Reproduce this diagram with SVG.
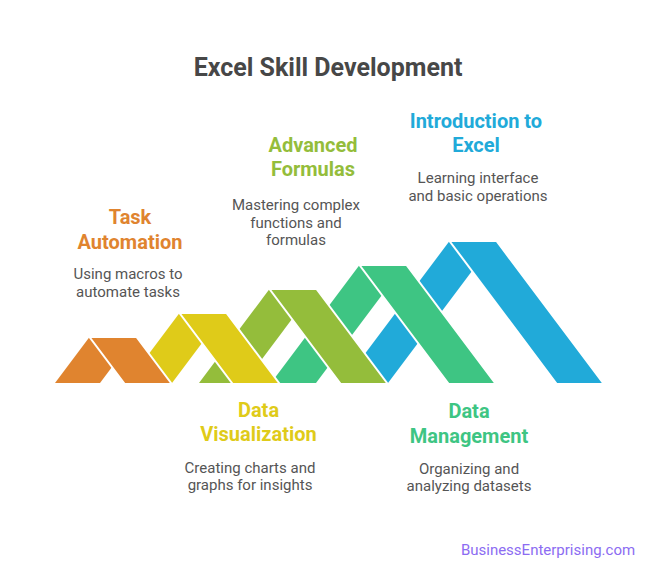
<svg xmlns="http://www.w3.org/2000/svg" width="652" height="578" viewBox="0 0 652 578">
<style>
.t{font-family:Roboto,"Liberation Sans",sans-serif;font-weight:700;font-size:20px;text-anchor:middle}
.d{font-family:Roboto,"Liberation Sans",sans-serif;font-size:15px;fill:#555555;text-anchor:middle}
.rl{stroke:#ffffff;stroke-width:2;stroke-linejoin:miter}
.c1{fill:#E0842F}.c2{fill:#DFCB19}.c3{fill:#94BD3B}.c4{fill:#3EC583}.c5{fill:#21AAD9}
</style>
<rect width="652" height="578" fill="#ffffff"/>
<text x="328" y="76" style="font-family:Roboto,'Liberation Sans',sans-serif;font-weight:700;font-size:25px;fill:#474747;text-anchor:middle">Excel Skill Development</text>
<g id="connectors">
<g id="chev-intro">
<polygon class="c5" points="449.5,241 494.5,241 388,383 343,383"/>
<polygon class="c5 rl" points="449.5,241 496.5,241 603.75,384 556.75,384"/>
</g>
<g id="chev-data-mgmt">
<polygon class="c4" points="359.5,265 404.5,265 316,383 271,383"/>
<polygon class="c4 rl" points="359.5,265 406.5,265 495.75,384 448.75,384"/>
</g>
<g id="chev-advanced">
<polygon class="c3" points="269.5,289 314.5,289 244,383 199,383"/>
<polygon class="c3 rl" points="269.5,289 316.5,289 387.75,384 340.75,384"/>
</g>
<g id="chev-data-viz">
<polygon class="c2" points="179.5,313 224.5,313 172,383 127,383"/>
<polygon class="c2 rl" points="179.5,313 226.5,313 279.75,384 232.75,384"/>
</g>
<g id="chev-task">
<polygon class="c1" points="89.5,337 134.5,337 100,383 55,383"/>
<polygon class="c1 rl" points="89.5,337 136.5,337 171.75,384 124.75,384"/>
</g>
</g>
<g id="node-task">
<text class="t" x="130" y="224" fill="#E0842F">Task</text>
<text class="t" x="130" y="248.5" fill="#E0842F">Automation</text>
<text class="d" x="128" y="279">Using macros to</text>
<text class="d" x="128" y="296.5">automate tasks</text>
</g>
<g id="node-advanced">
<text class="t" x="313" y="151.5" fill="#94BD3B">Advanced</text>
<text class="t" x="313" y="175.5" fill="#94BD3B">Formulas</text>
<text class="d" x="296" y="210">Mastering complex</text>
<text class="d" x="296" y="227.5">functions and</text>
<text class="d" x="296" y="245">formulas</text>
</g>
<g id="node-intro">
<text class="t" x="476" y="127.5" fill="#21AAD9">Introduction to</text>
<text class="t" x="476" y="151.5" fill="#21AAD9">Excel</text>
<text class="d" x="478" y="183">Learning interface</text>
<text class="d" x="478" y="200.5">and basic operations</text>
</g>
<g id="node-data-viz">
<text class="t" x="258.5" y="417" fill="#DFCB19">Data</text>
<text class="t" x="258.5" y="441" fill="#DFCB19">Visualization</text>
<text class="d" x="250" y="472.5">Creating charts and</text>
<text class="d" x="250" y="490">graphs for insights</text>
</g>
<g id="node-data-mgmt">
<text class="t" x="469" y="418" fill="#3EC583">Data</text>
<text class="t" x="469" y="442.5" fill="#3EC583">Management</text>
<text class="d" x="469" y="474">Organizing and</text>
<text class="d" x="469" y="491">analyzing datasets</text>
</g>
<text x="548" y="555" style="font-family:Roboto,'Liberation Sans',sans-serif;font-size:15px;fill:#8C6CF2;text-anchor:middle">BusinessEnterprising.com</text>
</svg>
